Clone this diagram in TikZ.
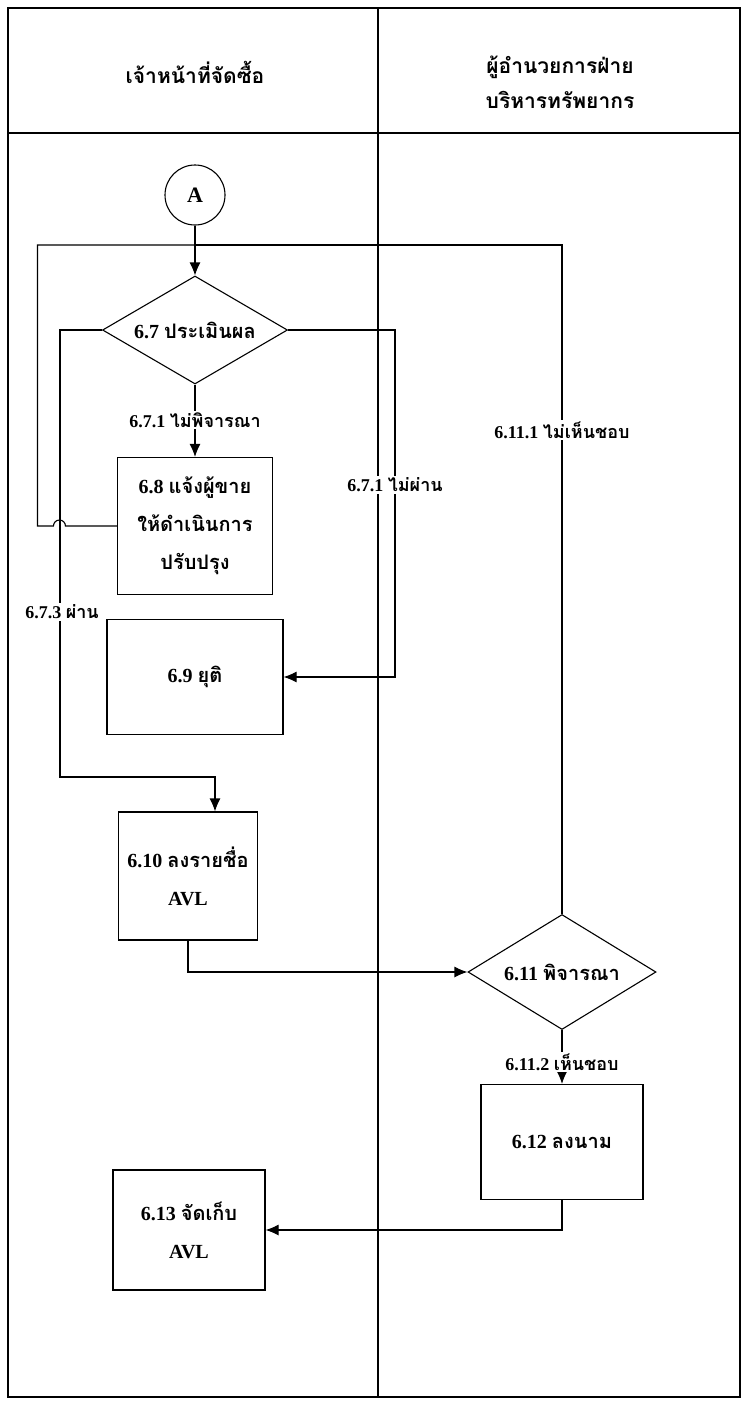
\documentclass[tikz,border=0pt]{standalone}
\usepackage{fontspec}
\setmainfont{Liberation Serif}
\newfontfamily\thaifont[Script=Thai]{Loma}
\newcommand{\thai}[1]{{\thaifont #1}}
\usetikzlibrary{shapes.geometric, arrows.meta}

\begin{document}
\begin{tikzpicture}[>={Latex[length=13pt,width=11pt]}, x=1pt, y=-1pt, line width=1.1pt]

  \useasboundingbox (0,0) rectangle (742,1403);

  % Swimlane frame: outer box, header row, lane divider
  \draw (8,8) rectangle (740,1397);
  \draw (8,133) -- (740,133);
  \draw (378,8) -- (378,1397);

  % Helper styles for the flow chart
  \tikzset{
    lane/.style={font=\bfseries\fontsize{21}{35}\selectfont, align=center},
    stepbox/.style={draw, rectangle, inner sep=2pt, align=center,
      font=\bfseries\fontsize{20}{38}\selectfont},
    decision/.style={draw, diamond, inner sep=0pt, aspect=1.7,
      font=\bfseries\fontsize{20}{22}\selectfont},
    lbl/.style={fill=white, inner sep=1.5pt, font=\bfseries\fontsize{18}{20}\selectfont}
  }

  % Lane titles
  \node[lane] (laneBuyer) at (195,72) {\thai{เจ้าหน้าที่จัดซื้อ}};
  \node[lane] (laneDir)   at (560,82) {\thai{ผู้อำนวยการฝ่าย}\\\thai{บริหารทรัพยากร}};

  % --- Steps ---
  \node[draw, circle, minimum size=60pt, inner sep=0pt,
        font=\bfseries\fontsize{22}{24}\selectfont] (nA) at (195,195) {A};

  \node[decision, minimum width=185pt, minimum height=108pt] (d67) at (195,330)
    {6.7 \thai{ประเมินผล}};

  \node[stepbox, minimum width=155pt, minimum height=137pt] (b68) at (195,526)
    {6.8 \thai{แจ้งผู้ขาย}\\\thai{ให้ดำเนินการ}\\\thai{ปรับปรุง}};

  \node[stepbox, minimum width=176pt, minimum height=115pt] (b69) at (195,677)
    {6.9 \thai{ยุติ}};

  \node[stepbox, minimum width=139pt, minimum height=128pt] (b610) at (188,876)
    {6.10 \thai{ลงรายชื่อ}\\AVL};

  \node[decision, minimum width=188pt, minimum height=115pt] (d611) at (562,972)
    {6.11 \thai{พิจารณา}};

  \node[stepbox, minimum width=162pt, minimum height=115pt] (b612) at (562,1142)
    {6.12 \thai{ลงนาม}};

  \node[stepbox, minimum width=152pt, minimum height=120pt] (b613) at (189,1230)
    {6.13 \thai{จัดเก็บ}\\AVL};

  % --- Connectors ---
  \coordinate (jTop) at (195,245);
  \coordinate (passTurn) at (60,777);
  \coordinate (failTurn) at (395,330);

  \draw[->] (nA) -- (d67);
  % loop back from 6.8, hopping over the 6.7.3 line
  \draw (b68.west) -- ++(-51.5,0) arc[start angle=0, end angle=180, radius=6pt]
    -- ++(-16,0) |- (jTop);
  \draw (d611.north) |- (jTop);

  \draw[->] (d67.south) -- (b68.north);
  \draw[->] (d67.west) -| (passTurn) -| ([xshift=27pt]b610.north);
  \draw[->] (d67.east) -- (failTurn) |- (b69.east);

  \draw[->] (b610.south) |- (d611.west);
  \draw[->] (d611.south) -- (b612.north);
  \draw[->] (b612.south) |- (b613.east);

  % Branch labels sitting on the lines
  \node[lbl] (l671a) at (195,420)  {6.7.1 \thai{ไม่พิจารณา}};
  \node[lbl] (l673)  at (62,612)   {6.7.3 \thai{ผ่าน}};
  \node[lbl] (l671b) at (395,485)  {6.7.1 \thai{ไม่ผ่าน}};
  \node[lbl] (l6111) at (562,430)  {6.11.1 \thai{ไม่เห็นชอบ}};
  \node[lbl] (l6112) at (562,1062) {6.11.2 \thai{เห็นชอบ}};

\end{tikzpicture}
\end{document}
